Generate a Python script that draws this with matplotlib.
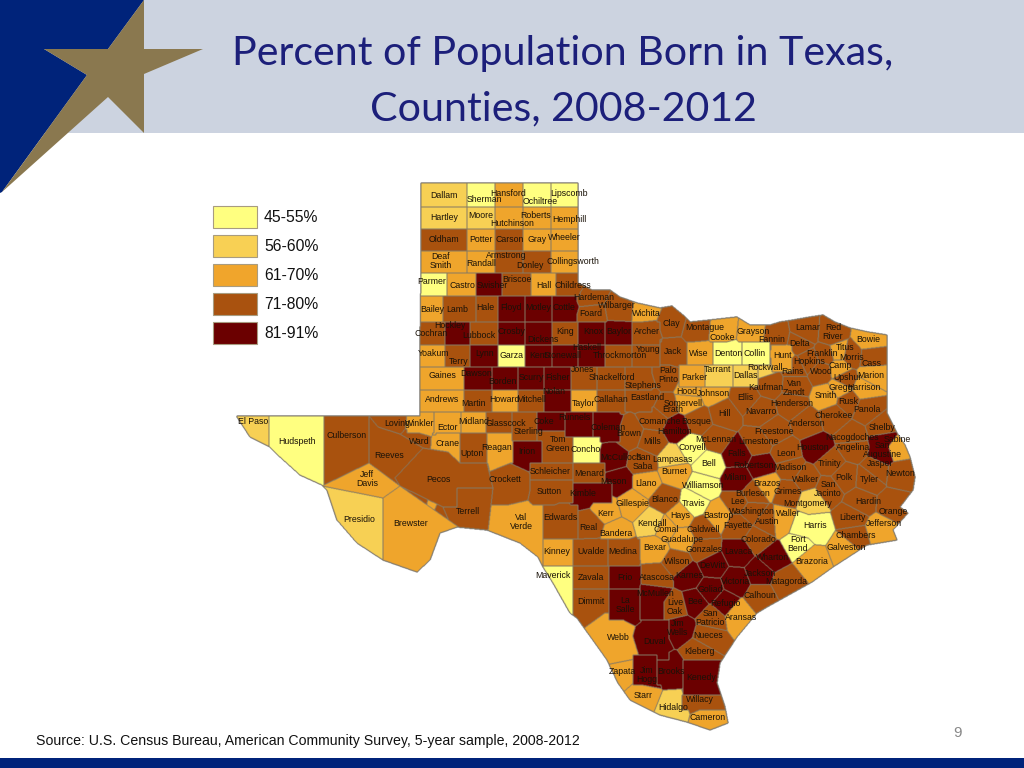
import numpy as np
import matplotlib
matplotlib.use("Agg")
import matplotlib.pyplot as plt
from matplotlib.patches import Polygon, Rectangle
from matplotlib.path import Path

title_lines = ["Percent of Population Born in Texas,", "Counties, 2008-2012"]
source_text = "Source: U.S. Census Bureau, American Community Survey, 5-year sample, 2008-2012"
legend_labels = ["45-55%", "56-60%", "61-70%", "71-80%", "81-91%"]
legend_colors = ["#FFFF80", "#F8D054", "#F0A52C", "#A9520F", "#6B0000"]
border_color = "#857A64"

# counties by legend class
class_1 = ["Sherman", "Ochiltree", "Lipscomb", "Parmer", "Garza", "Denton", "Collin", "Concho", "Coryell", "Bell",
           "Williamson", "Travis", "Harris", "Fort\nBend", "Hudspeth", "Maverick"]
class_2 = ["Dallam", "Hartley", "Moore", "Tarrant", "Dallas", "Rockwall", "Lampasas", "Kendall", "Montgomery",
           "El Paso", "Presidio", "Hidalgo"]
class_3 = ["Hansford", "Hutchinson", "Roberts", "Hemphill", "Potter", "Gray", "Wheeler", "Deaf\nSmith", "Randall",
           "Collingsworth", "Castro", "Hall", "Bailey", "Wichita", "Yoakum", "Gaines", "Andrews", "Howard", "Taylor",
           "Winkler", "Ector", "Midland", "Crane", "Reagan", "Wise", "Parker", "Hood", "Somervell", "Johnson", "Cooke",
           "Grayson", "Hunt", "Bowie", "Titus", "Camp", "Marion", "Harrison", "Gregg", "Smith", "Sabine", "Burnet",
           "Llano", "Gillespie", "Kerr", "Bandera", "Comal", "Hays", "Bastrop", "Guadalupe", "Bexar", "Kinney",
           "Val\nVerde", "Jeff\nDavis", "Brewster", "Brazos", "Waller", "Brazoria", "Galveston", "Jefferson",
           "Aransas", "Webb", "Zapata", "Starr", "Cameron"]
class_5 = ["Swisher", "Floyd", "Motley", "Cottle", "Hockley", "Crosby", "Dickens", "Knox", "Baylor", "Lynn", "Kent",
           "Stonewall", "Haskell", "Dawson", "Borden", "Scurry", "Fisher", "Nolan", "Coke", "Runnels", "Coleman",
           "Irion", "McCulloch", "Mason", "Kimble", "Hamilton", "Falls", "Robertson", "Milam", "Houston",
           "San\nAugustine", "Lavaca", "Wharton", "DeWitt", "Karnes", "Goliad", "Victoria", "Jackson", "Bee",
           "Refugio", "Frio", "La\nSalle", "McMullen", "Duval", "Jim\nWells", "Jim\nHogg", "Brooks", "Kenedy"]

# label position of every county, picture pixels (class 4 is whatever is in no list above)
label_pos = {
    "Dallam": (444, 195), "Sherman": (484, 200), "Hansford": (508, 194), "Ochiltree": (540, 202), "Lipscomb": (569, 194),
    "Hartley": (444, 218), "Moore": (481, 215), "Hutchinson": (512, 223), "Roberts": (536, 216), "Hemphill": (569, 219),
    "Oldham": (444, 239), "Potter": (481, 240), "Carson": (510, 239), "Gray": (537, 240), "Wheeler": (564, 238),
    "Deaf\nSmith": (441, 261), "Randall": (481, 263), "Armstrong": (506, 255), "Donley": (530, 265), "Collingsworth": (573, 261),
    "Parmer": (432, 282), "Castro": (462, 285), "Swisher": (492, 285), "Briscoe": (517, 279), "Hall": (544, 285), "Childress": (573, 285),
    "Bailey": (432, 309), "Lamb": (457, 309), "Hale": (485, 308), "Floyd": (511, 308), "Motley": (538, 308), "Cottle": (564, 307),
    "Hardeman": (594, 297), "Foard": (591, 314), "Wilbarger": (617, 305), "Wichita": (646, 313), "Clay": (671, 323),
    "Cochran": (431, 333), "Hockley": (450, 325), "Lubbock": (479, 335), "Crosby": (511, 332), "Dickens": (543, 340),
    "King": (565, 332), "Knox": (593, 332), "Baylor": (619, 332), "Archer": (647, 331),
    "Yoakum": (434, 354), "Terry": (459, 361), "Lynn": (485, 354), "Garza": (512, 355), "Kent": (538, 355), "Stonewall": (563, 355),
    "Haskell": (587, 347), "Throckmorton": (620, 355), "Young": (648, 349), "Jack": (673, 352), "Wise": (699, 353),
    "Denton": (728, 353), "Collin": (755, 353),
    "Gaines": (442, 376), "Dawson": (476, 373), "Borden": (502, 381), "Scurry": (531, 377), "Fisher": (558, 378), "Jones": (583, 370),
    "Shackelford": (612, 378), "Stephens": (643, 385), "Palo\nPinto": (668, 375), "Parker": (694, 377), "Tarrant": (718, 369),
    "Rockwall": (765, 368), "Dallas": (745, 376), "Kaufman": (766, 387), "Rains": (792, 371), "Wood": (821, 371),
    "Andrews": (442, 399), "Martin": (473, 404), "Howard": (504, 399), "Mitchell": (531, 400), "Nolan": (554, 392), "Taylor": (584, 404),
    "Callahan": (611, 399), "Eastland": (647, 397), "Erath": (673, 410), "Hood": (687, 392), "Somervell": (683, 403),
    "Johnson": (713, 393), "Ellis": (745, 398), "Van\nZandt": (794, 388), "Henderson": (792, 404), "Smith": (826, 395),
    "Upshur": (847, 378), "Gregg": (841, 388), "Harrison": (864, 388), "Marion": (871, 375), "Rusk": (848, 401), "Panola": (867, 409),
    "Montague": (705, 328), "Cooke": (722, 337), "Grayson": (753, 332), "Fannin": (772, 340), "Lamar": (808, 327),
    "Red\nRiver": (833, 332), "Bowie": (868, 340), "Delta": (800, 343), "Hunt": (782, 356), "Hopkins": (809, 361),
    "Franklin": (822, 353), "Titus": (845, 347), "Morris": (852, 357), "Camp": (840, 365), "Cass": (871, 364),
    "Loving": (397, 423), "Winkler": (420, 424), "Ector": (447, 427), "Midland": (474, 422), "Glasscock": (506, 423), "Sterling": (529, 431),
    "Coke": (544, 421), "Runnels": (574, 418), "Coleman": (608, 427), "Comanche": (660, 421), "Bosque": (696, 421), "Hill": (724, 414),
    "Navarro": (761, 412), "Cherokee": (834, 416), "Anderson": (807, 423), "Shelby": (882, 428), "Hamilton": (675, 431),
    "Ward": (419, 441), "Crane": (447, 443), "Upton": (472, 453), "Reagan": (497, 447), "Irion": (527, 451), "Tom\nGreen": (558, 444),
    "Concho": (586, 449), "Brown": (629, 434), "Mills": (652, 442), "McCulloch": (621, 458), "San\nSaba": (643, 462),
    "Lampasas": (672, 459), "Coryell": (692, 447), "McLennan": (716, 439), "Limestone": (758, 442), "Freestone": (774, 431),
    "Nacogdoches": (852, 437), "Sabine": (897, 439), "Angelina": (853, 447), "San\nAugustine": (882, 450), "Houston": (813, 447),
    "Falls": (737, 454), "Bell": (709, 464), "Leon": (786, 453), "Trinity": (830, 463), "Jasper": (880, 463),
    "Robertson": (754, 466), "Madison": (790, 468), "Burnet": (674, 472), "Newton": (900, 473),
    "Schleicher": (550, 472), "Menard": (589, 474), "Pecos": (438, 479), "Crockett": (505, 480), "Mason": (613, 482),
    "Llano": (646, 483), "Milam": (735, 478), "Brazos": (767, 484), "Walker": (806, 479), "Polk": (844, 477), "Tyler": (869, 479),
    "Williamson": (703, 486), "Sutton": (549, 492), "Kimble": (583, 493), "Burleson": (753, 494), "Grimes": (788, 492),
    "San\nJacinto": (828, 489), "Gillespie": (632, 503), "Blanco": (665, 499), "Travis": (694, 503), "Lee": (738, 502),
    "Montgomery": (808, 503), "Hardin": (868, 502), "Terrell": (468, 511), "Kerr": (606, 514), "Washington": (752, 511),
    "Orange": (893, 512), "Hays": (680, 516), "Bastrop": (718, 516), "Waller": (788, 514), "Liberty": (852, 517),
    "Edwards": (560, 518), "Kendall": (652, 523), "Austin": (767, 522), "Harris": (815, 526), "Jefferson": (884, 523),
    "Val\nVerde": (521, 522), "Real": (588, 528), "Comal": (666, 529), "Caldwell": (703, 529), "Fayette": (738, 526),
    "Bandera": (616, 533), "Chambers": (856, 536), "Guadalupe": (682, 539), "Colorado": (758, 539), "Fort\nBend": (798, 544),
    "Bexar": (655, 548), "Gonzales": (704, 549), "Galveston": (846, 548), "Kinney": (557, 552), "Uvalde": (591, 552),
    "Medina": (623, 552), "Lavaca": (738, 552), "Wharton": (773, 558), "Brazoria": (812, 561), "Wilson": (677, 562),
    "DeWitt": (712, 565), "Jackson": (760, 573), "Maverick": (553, 576), "Zavala": (591, 578), "Frio": (625, 578),
    "Atascosa": (657, 578), "Karnes": (689, 576), "Victoria": (736, 582), "Matagorda": (786, 582), "Goliad": (710, 590),
    "Calhoun": (760, 596), "Dimmit": (591, 601), "McMullen": (655, 594), "Bee": (695, 602), "Refugio": (725, 603),
    "La\nSalle": (625, 605), "Live\nOak": (675, 607), "San\nPatricio": (710, 618), "Aransas": (741, 618),
    "Jim\nWells": (678, 628), "Nueces": (708, 636), "Webb": (618, 637), "Duval": (654, 641), "Kleberg": (699, 652),
    "Brooks": (671, 671), "Jim\nHogg": (647, 675), "Zapata": (622, 672), "Kenedy": (701, 678), "Starr": (643, 696),
    "Willacy": (700, 699), "Hidalgo": (673, 708), "Cameron": (708, 717),
    "El Paso": (253, 421), "Hudspeth": (297, 442), "Culberson": (347, 436), "Reeves": (389, 455), "Jeff\nDavis": (367, 479),
    "Presidio": (359, 519), "Brewster": (411, 524),
}

# seed points of counties whose middle is away from the label
centres = {
    "Hardeman": [(590, 296)], "Wilbarger": [(620, 310)], "Foard": [(592, 315)], "Wichita": [(645, 312)],
    "Erath": [(665, 406)], "Montague": [(697, 330)], "Cooke": [(722, 332)], "Grayson": [(752, 335)], "Fannin": [(776, 338)],
    "Lamar": [(805, 333)], "Red\nRiver": [(832, 335)], "Franklin": [(826, 355)], "Titus": [(838, 352)], "Morris": [(852, 355)],
    "Cass": [(870, 357)], "Camp": [(839, 368)], "Upshur": [(845, 380)], "Rains": [(795, 368)], "Kaufman": [(770, 383)],
    "Van\nZandt": [(795, 385)], "Palo\nPinto": [(666, 378)], "Johnson": [(713, 391)], "Somervell": [(688, 401)], "Hood": [(689, 390)],
    "Smith": [(827, 397)], "Loving": [(392, 421)], "Ward": [(415, 441)], "Mason": [(619, 482)], "Crockett": [(512, 484)],
    "Real": [(590, 525)], "Kerr": [(606, 510)], "Bandera": [(616, 533)], "San\nAugustine": [(884, 440), (884, 453)],
    "Sabine": [(896, 449)], "Hamilton": [(677, 428)], "Comanche": [(655, 418)], "Bosque": [(698, 421)], "McCulloch": [(612, 457)],
    "Robertson": [(762, 467)], "Milam": [(738, 480)], "Houston": [(817, 448)], "Jasper": [(876, 470)], "Hardin": [(860, 502)],
    "Harris": [(815, 528), (802, 528)], "Waller": [(782, 521)], "Montgomery": [(812, 500)], "Orange": [(893, 505)],
    "Jefferson": [(880, 530)], "Chambers": [(855, 537)], "Webb": [(612, 630), (618, 652)], "Jim\nWells": [(680, 628)],
    "San\nPatricio": [(712, 618)], "Aransas": [(738, 614)], "Willacy": [(700, 699)],
}

# the square surveyed counties, as (top, bottom, x edges, names)
grid_rows = [
    (183, 207, [421, 467, 495, 523, 551, 578], ["Dallam", "Sherman", "Hansford", "Ochiltree", "Lipscomb"]),
    (207, 229, [421, 467, 495, 523, 551, 578], ["Hartley", "Moore", "Hutchinson", "Roberts", "Hemphill"]),
    (229, 251, [421, 467, 495, 523, 551, 578], ["Oldham", "Potter", "Carson", "Gray", "Wheeler"]),
    (251, 273, [421, 467, 495, 523, 551, 578], ["Deaf\nSmith", "Randall", "Armstrong", "Donley", "Collingsworth"]),
    (273, 296, [415, 447, 476, 502, 531, 556, 580], ["Parmer", "Castro", "Swisher", "Briscoe", "Hall", "Childress"]),
    (296, 322, [415, 443, 476, 498, 525, 552, 577], ["Bailey", "Lamb", "Hale", "Floyd", "Motley", "Cottle"]),
    (322, 345, [415, 445, 470, 498, 525, 552, 578, 605, 632, 660],
     ["Cochran", "Hockley", "Lubbock", "Crosby", "Dickens", "King", "Knox", "Baylor", "Archer"]),
    (345, 367, [415, 445, 470, 498, 525, 552, 578, 605, 632, 660],
     ["Yoakum", "Terry", "Lynn", "Garza", "Kent", "Stonewall", "Haskell", "Throckmorton", "Young"]),
    (367, 390, [415, 464, 492, 518, 544, 571, 597, 625, 652],
     ["Gaines", "Dawson", "Borden", "Scurry", "Fisher", "Jones", "Shackelford", "Stephens"]),
    (390, 412, [415, 464, 492, 518, 544, 571, 597, 625, 652],
     ["Andrews", "Martin", "Howard", "Mitchell", "Nolan", "Taylor", "Callahan", "Eastland"]),
    (412, 433, [407, 434, 461, 486, 512], ["Winkler", "Ector", "Midland", "Glasscock"]),
    (433, 463, [436, 460, 487, 513], ["Crane", "Upton", "Reagan"]),
    (342, 365, [660, 687, 713, 742, 770], ["Jack", "Wise", "Denton", "Collin"]),
    (365, 387, [679, 705, 733, 758], ["Parker", "Tarrant", "Dallas"]),
]

# other straight sided counties, (x left, x right, y top, y bottom)
square_counties = {
    "Sterling": (512, 537, 412, 441), "Tom\nGreen": (537, 573, 431, 463), "Coke": (537, 565, 412, 431), "Runnels": (565, 593, 412, 437),
    "Coleman": (593, 620, 412, 442), "Irion": (513, 542, 441, 463), "Concho": (573, 600, 437, 463), "Schleicher": (530, 573, 463, 480),
    "Sutton": (530, 573, 480, 503), "Menard": (573, 605, 463, 483), "Kimble": (573, 612, 483, 503), "Edwards": (543, 578, 505, 539),
    "Val\nVerde": (488, 543, 505, 565), "Kinney": (543, 573, 539, 566), "Uvalde": (573, 608, 539, 566), "Medina": (608, 640, 539, 566),
    "Maverick": (540, 573, 566, 620), "Zavala": (573, 609, 566, 589), "Frio": (609, 640, 566, 589), "Dimmit": (573, 609, 589, 613),
    "La\nSalle": (609, 640, 589, 620), "McMullen": (640, 664, 589, 620), "Duval": (641, 669, 620, 660),
    "Jim\nHogg": (633, 657, 655, 685), "Brooks": (657, 683, 661, 685), "Kenedy": (683, 722, 660, 695), "Willacy": (682, 726, 695, 710),
    "Hunt": (771, 792, 345, 372), "Rockwall": (758, 772, 365, 374),
}

# big far west counties are easier as shapes
west_shapes = {
    "El Paso": [(225, 405), (269, 405), (269, 470), (225, 470)],
    "Hudspeth": [(269, 405), (324, 405), (324, 495), (269, 495)],
    "Culberson": [(324, 405), (369, 405), (369, 463), (324, 485)],
    "Reeves": [(369, 416), (378, 427), (400, 434), (423, 448), (395, 478), (400, 486), (369, 463)],
    "Pecos": [(423, 448), (448, 452), (460, 463), (487, 463), (493, 488), (457, 488), (457, 507), (443, 507), (400, 486), (395, 478)],
    "Terrell": [(443, 507), (457, 507), (457, 488), (493, 488), (487, 540), (457, 540)],
    "Jeff\nDavis": [(369, 463), (400, 486), (383, 498), (322, 486)],
    "Presidio": [(322, 486), (383, 498), (383, 575), (310, 575)],
    "Brewster": [(383, 498), (400, 486), (460, 528), (460, 590), (383, 590)],
}

state_outline = [
    (421, 183), (578, 183), (578, 283), (592, 290), (610, 290), (620, 297), (637, 303), (660, 308), (672, 306), (683, 315),
    (690, 322), (710, 320), (737, 317), (750, 325), (770, 325), (780, 322), (793, 320), (810, 317), (823, 315), (835, 322),
    (850, 328), (868, 332), (887, 335), (887, 373), (887, 413), (897, 433), (905, 445), (910, 457), (915, 477), (913, 490),
    (900, 507), (908, 513), (893, 530), (897, 540), (867, 545), (833, 567), (812, 582), (767, 607), (757, 613), (737, 637),
    (720, 663), (717, 683), (725, 707), (728, 723), (710, 730), (687, 722), (660, 715), (630, 700), (618, 683), (607, 660),
    (600, 650), (577, 618), (570, 613), (553, 583), (543, 567), (538, 557), (520, 543), (487, 530), (457, 527), (440, 533),
    (430, 560), (417, 572), (383, 560), (357, 543), (337, 520), (327, 490), (322, 485), (300, 475), (280, 457), (270, 447),
    (250, 437), (237, 417), (237, 416), (420, 416), (420, 343), (421, 277),
]

fig = plt.figure(figsize=(10.24, 7.68), dpi=100, facecolor="white")
ax = fig.add_axes([0, 0, 1, 1])
ax.axis("off")

# slide furniture
ax.add_patch(Rectangle((0, 0), 1024, 133, fc="#CCD3E0", ec="none"))
ax.add_patch(Polygon([(0, 0), (144, 0), (108, 49), (44, 49), (87, 75), (2, 192), (0, 193)], fc="#00237A", ec="none"))
ax.add_patch(Polygon([(144, 0), (144, 49), (203, 49), (144, 74), (144, 133), (108, 97), (2, 192), (87, 75), (44, 49), (108, 49)],
                     fc="#8A784F", ec="none"))
ax.add_patch(Rectangle((0, 758), 1024, 10, fc="#00237A", ec="none"))
ax.text(563, 53, title_lines[0], ha="center", va="center", family="Lato", fontsize=29.6, color="#1C1F7A")
ax.text(563, 109, title_lines[1], ha="center", va="center", family="Lato", fontsize=29.6, color="#1C1F7A")
ax.text(36, 741, source_text, ha="left", va="center", family="Liberation Sans", fontsize=10.2, color="#111111")
ax.text(957, 733, "9", ha="center", va="center", family="Liberation Sans", fontsize=11, color="#888888")

# map: every point takes the county of its nearest seed, clipped to the state
names = list(label_pos)
class_of = {}
for n in names:
    class_of[n] = 3
for c, group in enumerate([class_1, class_2, class_3, None, class_5]):
    if group:
        for n in group:
            class_of[n] = c

x0, x1, y0, y1 = 230, 922, 178, 736
gx, gy = np.meshgrid(np.arange(x0, x1, 0.5) + 0.25, np.arange(y0, y1, 0.5) + 0.25)
best = np.full(gx.shape, 1e12)
owner = np.full(gx.shape, -1, dtype=int)
for i, n in enumerate(names):
    if n in west_shapes:
        continue
    for sx, sy in centres.get(n, [label_pos[n]]):
        d = (gx - sx) ** 2 + (gy - sy) ** 2
        near = d < best
        best[near] = d[near]
        owner[near] = i

for top, bottom, edges, row in grid_rows:
    for j, n in enumerate(row):
        cell = (gx >= edges[j]) & (gx < edges[j + 1]) & (gy >= top) & (gy < bottom)
        owner[cell] = names.index(n)
for n, (xa, xb, ya, yb) in square_counties.items():
    owner[(gx >= xa) & (gx < xb) & (gy >= ya) & (gy < yb)] = names.index(n)

pts = np.column_stack([gx.ravel(), gy.ravel()])
for n, shape in west_shapes.items():
    inside = Path(shape).contains_points(pts).reshape(gx.shape)
    owner[inside] = names.index(n)
in_state = Path(state_outline).contains_points(pts).reshape(gx.shape)
owner[~in_state] = -1

rgba = np.zeros(gx.shape + (4,))
county_rgb = np.array([matplotlib.colors.to_rgba(legend_colors[class_of[n]]) for n in names])
rgba[owner >= 0] = county_rgb[owner[owner >= 0]]

edge = np.zeros(owner.shape, dtype=bool)
dx = owner[:, 1:] != owner[:, :-1]
dy = owner[1:, :] != owner[:-1, :]
edge[:, 1:] |= dx
edge[:, :-1] |= dx
edge[1:, :] |= dy
edge[:-1, :] |= dy
rgba[edge] = matplotlib.colors.to_rgba(border_color)
ax.imshow(rgba, extent=(x0, x1, y1, y0), interpolation="bilinear", aspect="auto", zorder=2)

for n in names:
    ax.text(label_pos[n][0], label_pos[n][1], n, ha="center", va="center", family="Liberation Sans", fontsize=6.3,
            color="#1A1208", linespacing=1.05, zorder=4)

# legend
for i in range(5):
    ax.add_patch(Rectangle((213, 205.5 + i * 29), 44, 22, fc=legend_colors[i], ec="#A89C80", lw=0.8))
    ax.text(264, 217.5 + i * 29, legend_labels[i], ha="left", va="center", family="Liberation Sans", fontsize=11.3, color="#111111")

ax.set_xlim(0, 1024)
ax.set_ylim(768, 0)
fig.savefig("out.png", dpi=100)
